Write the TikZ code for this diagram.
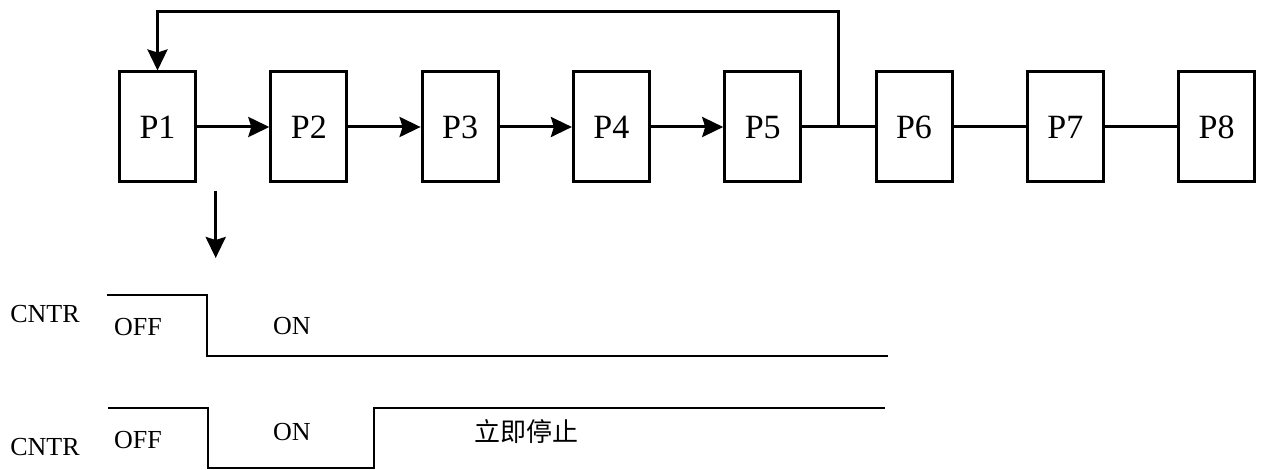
\documentclass[tikz,border=0pt]{standalone}
\usepackage{fontspec}
\setmainfont{Liberation Serif}
\newfontfamily\cjk{Noto Sans CJK SC}
\usetikzlibrary{arrows.meta, calc, positioning}

\begin{document}
\begin{tikzpicture}[
    x=0.5pt, y=-0.5pt,
    >={Stealth[length=10.5pt, width=10pt, inset=1.5pt]},
    pbox/.style={draw, line width=1.5pt, minimum width=38pt,
                 minimum height=55pt, inner sep=0pt,
                 text height=11.5pt, text depth=0pt,
                 font=\fontsize{17}{17}\selectfont},
    flow/.style={->, line width=1.5pt},
    link/.style={line width=1.5pt},
    wave/.style={line width=1.45pt},
    sig/.style={inner sep=0pt, font=\fontsize{13}{13}\selectfont},
]
\useasboundingbox (0,0) rectangle (1264,470);

\def\px{157.5}  % centre of the first box
\def\dx{151.3}  % spacing between boxes
\def\py{127}    % row height of the boxes

% ── Process chain ──
\foreach \i in {1,...,8} {
    \node[pbox] (P\i) at ({\px+(\i-1)*\dx}, \py) {P\i};
}
\foreach \i/\j in {1/2, 2/3, 3/4, 4/5} {
    \draw[flow] (P\i) -- (P\j);
}
\foreach \i/\j in {5/6, 6/7, 7/8} {
    \draw[link] (P\i) -- (P\j);
}

% feedback from the P5--P6 link back to P1
\coordinate (J) at ($(P5.east)!0.5!(P6.west)$);
\coordinate (T) at (0, 12);
\draw[flow] (J) -- (J |- T) -| (P1.north);

% trigger arrow below P1
\coordinate (D0) at (215.7, 191);
\coordinate (D1) at (215.7, 258);
\draw[flow] (D0) -- (D1);

% ── Signal traces ──
\draw[wave] (107,295) -- (207,295) -- (207,356) -- (888,356);
\draw[wave] (108,408) -- (208,408) -- (208,468) -- (374,468)
    -- (374,408) -- (885,408);

\node[sig] (cntrA) at (45, 314) {CNTR};
\node[sig] (offA)  at (138, 327.5) {OFF};
\node[sig] (onA)   at (292, 326.5) {ON};

\node[sig] (cntrB) at (45, 447) {CNTR};
\node[sig] (offB)  at (138, 440) {OFF};
\node[sig] (onB)   at (292, 432) {ON};
\node[sig, font=\cjk\fontsize{13}{13}\selectfont] (stop) at (526, 432) {立即停止};

\end{tikzpicture}
\end{document}
